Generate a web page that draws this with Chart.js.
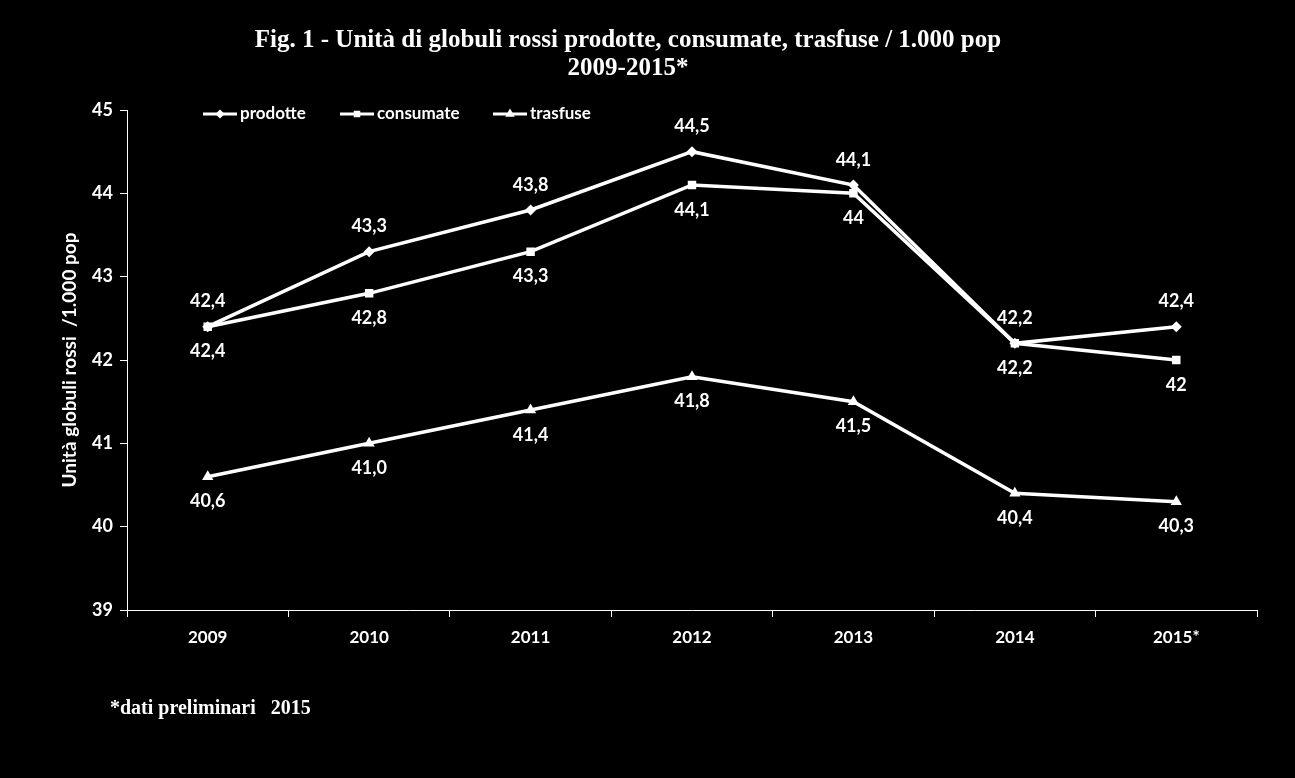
<!DOCTYPE html>
<html>
<head>
<meta charset="utf-8">
<script src="https://cdn.jsdelivr.net/npm/chart.js@4/dist/chart.umd.min.js"></script>
<style>
  html, body { margin: 0; padding: 0; background: #000; }
  #wrap { position: relative; width: 1295px; height: 778px; }
</style>
</head>
<body>
<div id="wrap"><canvas id="grafico" width="1295" height="778"></canvas></div>
<script>
const anni = ['2009', '2010', '2011', '2012', '2013', '2014', '2015*'];
const prodotte = [42.4, 43.3, 43.8, 44.5, 44.1, 42.2, 42.4];
const consumate = [42.4, 42.8, 43.3, 44.1, 44.0, 42.2, 42.0];
const trasfuse = [40.6, 41.0, 41.4, 41.8, 41.5, 40.4, 40.3];
const yTicks = [39, 40, 41, 42, 43, 44, 45];

const sans = 'Lato, "Liberation Sans", sans-serif';
const serif = '"Liberation Serif", "DejaVu Serif", serif';

function fmt(v, fixed) {
    return (fixed ? v.toFixed(1) : String(v)).replace('.', ',');
}

// etichette dei valori + legenda + titoli
const extraPlugin = {
    id: 'extra',
    afterDatasetsDraw(chart) {
        const ctx = chart.ctx;
        ctx.save();
        ctx.fillStyle = '#fff';
        ctx.font = 'bold 18px ' + sans;
        ctx.textAlign = 'center';
        ctx.textBaseline = 'middle';
        chart.data.datasets.forEach(function (ds, i) {
            const meta = chart.getDatasetMeta(i);
            meta.data.forEach(function (pt, j) {
                const dy = ds.labelPos === 'above' ? -25 : 25;
                ctx.fillText(fmt(ds.data[j], ds.fixedDec), pt.x, pt.y + dy);
            });
        });

        // legenda
        const legX = [203, 340, 493];
        ctx.font = 'bold 17px ' + sans;
        ctx.textAlign = 'left';
        chart.data.datasets.forEach(function (ds, i) {
            const x = legX[i], y = 114;
            ctx.strokeStyle = '#fff';
            ctx.lineWidth = 3;
            ctx.beginPath();
            ctx.moveTo(x, y);
            ctx.lineTo(x + 34, y);
            ctx.stroke();
            Chart.helpers.drawPoint(ctx, { pointStyle: ds.pointStyle, radius: 2.5, borderWidth: 1 }, x + 17, y);
            ctx.fillText(ds.label, x + 37, y);
        });

        // titoli
        ctx.textAlign = 'center';
        ctx.font = 'bold 25px ' + serif;
        ctx.fillText('Fig. 1 - Unità di globuli rossi prodotte, consumate, trasfuse / 1.000 pop', 628, 41);
        ctx.fillText('2009-2015*', 628, 69);
        ctx.textAlign = 'left';
        ctx.font = 'bold 20px ' + serif;
        ctx.fillText('*dati preliminari   2015', 110, 709);
        ctx.restore();
    }
};

function serie(label, data, style, pos, fixedDec) {
    return {
        label: label,
        data: data,
        borderColor: '#fff',
        backgroundColor: '#fff',
        borderWidth: 3.5,
        pointStyle: style,
        pointRadius: style === 'rect' ? 3.5 : 3,
        pointHoverRadius: 3,
        tension: 0,
        labelPos: pos,
        fixedDec: fixedDec
    };
}

new Chart(document.getElementById('grafico'), {
    type: 'line',
    data: {
        labels: anni,
        datasets: [
            serie('prodotte', prodotte, 'rectRot', 'above', false),
            serie('consumate', consumate, 'rect', 'below', false),
            serie('trasfuse', trasfuse, 'triangle', 'below', true)
        ]
    },
    options: {
        responsive: false,
        animation: false,
        layout: { padding: { top: 110, left: 0, right: 38, bottom: 108 } },
        plugins: {
            legend: { display: false },
            tooltip: { enabled: false }
        },
        scales: {
            x: {
                offset: true,
                grid: { offset: true, drawOnChartArea: false, color: '#fff', tickLength: 7 },
                border: { color: '#fff', width: 1 },
                ticks: { color: '#fff', font: { family: sans, size: 17, weight: 'bold' }, padding: 10, maxRotation: 0 },
                afterFit(scale) { scale.height = 60; }
            },
            y: {
                min: 39,
                max: 45,
                afterBuildTicks(scale) { scale.ticks = yTicks.map(v => ({ value: v })); },
                grid: { drawOnChartArea: false, color: '#fff', tickLength: 7 },
                border: { color: '#fff', width: 1 },
                ticks: { color: '#fff', font: { family: sans, size: 18, weight: 'bold' }, padding: 7 },
                title: {
                    display: true,
                    text: 'Unità globuli rossi  /1.000 pop',
                    color: '#fff',
                    font: { family: sans, size: 19, weight: 'bold' },
                    padding: { top: 58 }
                },
                afterFit(scale) { scale.width = 127; }
            }
        }
    },
    plugins: [extraPlugin]
});
</script>
</body>
</html>
